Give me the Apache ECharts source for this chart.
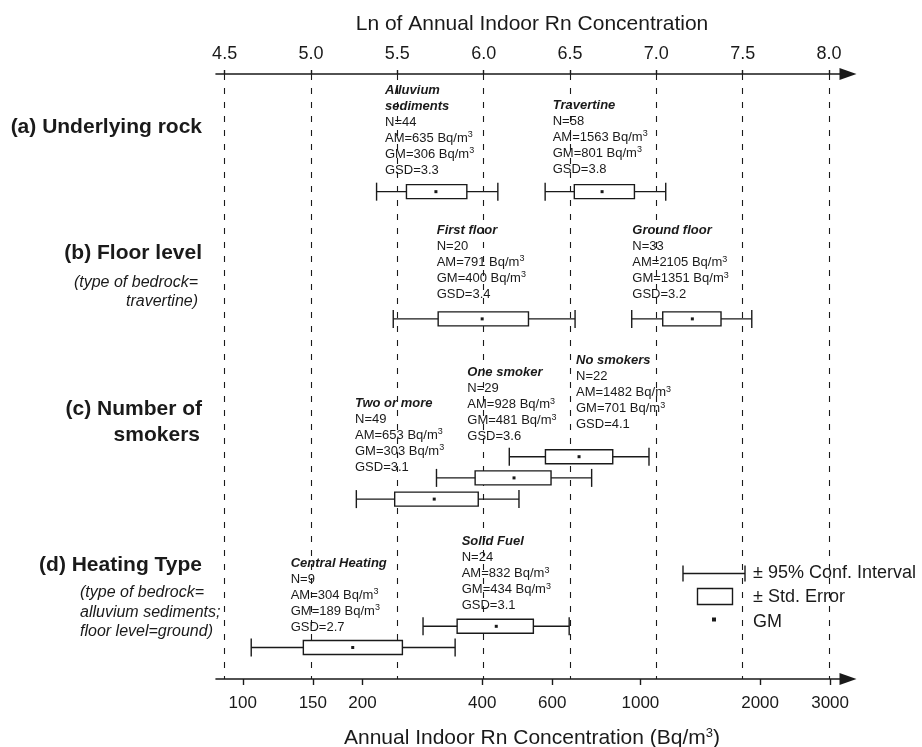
<!DOCTYPE html>
<html>
<head>
<meta charset="utf-8">
<script src="https://cdn.jsdelivr.net/npm/echarts@6/dist/echarts.min.js"></script>
<style>html,body{margin:0;padding:0;background:#fff}#main{width:922px;height:747px}</style>
</head>
<body>
<div id="main"></div>
<script>
// ---------------- DATA ----------------
const groups = ['Alluvium\nsediments', 'Travertine', 'First floor', 'Ground floor', 'No smokers', 'One smoker', 'Two or more', 'Solid Fuel', 'Central Heating'];
const rowNames = ['Underlying rock', 'Floor level', 'No smokers', 'One smoker', 'Two or more', 'Solid Fuel', 'Central Heating'];
const groupRow = [0, 0, 1, 1, 2, 3, 4, 5, 6];
const nValues = [44, 58, 20, 33, 22, 29, 49, 24, 9];
const amValues = [635, 1563, 791, 2105, 1482, 928, 653, 832, 304];
const gmValues = [306, 801, 400, 1351, 701, 481, 303, 434, 189];
const gsdValues = [3.3, 3.8, 3.4, 3.2, 4.1, 3.6, 3.1, 3.1, 2.7];
// 95% confidence interval and +/- std. error limits (Bq/m3)
const ciLow  = [217, 576, 239, 951, 468, 307, 193, 284, 105];
const seLow  = [258, 682, 310, 1138, 577, 384, 241, 346, 142];
const seHigh = [366, 966, 523, 1595, 852, 596, 391, 538, 252];
const ciHigh = [438, 1158, 685, 1906, 1051, 754, 495, 662, 342];
const topTicks = [4.5, 5.0, 5.5, 6.0, 6.5, 7.0, 7.5, 8.0];
const bottomTicks = [100, 150, 200, 400, 600, 1000, 2000, 3000];

// ---------------- LAYOUT ----------------
const FONT = '"Liberation Sans", Arial, Helvetica, sans-serif';
const INK = '#1a1a1a';
const rowSlot = [0, 12, 25, 27, 29, 41, 43];           // vertical slot of each row
const annotPos = [[385, 90], [552.7, 105], [436.7, 230], [632.3, 230.7], [576, 360.7], [467.3, 372.7], [355, 403.3], [461.7, 541.7], [290.7, 563.3]];
const X_MIN = 4.45, X_MAX = 8.11;

const chart = echarts.init(document.getElementById('main'), null, {renderer: 'canvas'});

function renderItem(params, api) {
  const yv = api.value(5);
  const pt = k => api.coord([api.value(k), yv]);
  const ciL = pt(0), seL = pt(1), gm = pt(2), seH = pt(3), ciH = pt(4);
  const cy = ciL[1];
  const bh = 14, cap = 18;
  const ls = {stroke: INK, lineWidth: 1.4, fill: null};
  return {
    type: 'group',
    children: [
      {type: 'line', shape: {x1: ciL[0], y1: cy, x2: ciH[0], y2: cy}, style: ls},
      {type: 'line', shape: {x1: ciL[0], y1: cy - cap / 2, x2: ciL[0], y2: cy + cap / 2}, style: ls},
      {type: 'line', shape: {x1: ciH[0], y1: cy - cap / 2, x2: ciH[0], y2: cy + cap / 2}, style: ls},
      {type: 'rect', shape: {x: seL[0], y: cy - bh / 2, width: seH[0] - seL[0], height: bh}, style: {fill: '#fff', stroke: INK, lineWidth: 1.4}},
      {type: 'rect', shape: {x: gm[0] - 1.5, y: cy - 1.5, width: 3, height: 3}, style: {fill: INK}}
    ]
  };
}

const seriesData = groups.map((g, i) => [
  Math.log(ciLow[i]), Math.log(seLow[i]), Math.log(gmValues[i]), Math.log(seHigh[i]), Math.log(ciHigh[i]),
  rowSlot[groupRow[i]]
]);

// annotation texts
const rich = {
  t: {fontFamily: FONT, fontSize: 13, fontWeight: 'bold', fontStyle: 'italic', lineHeight: 16, fill: INK, color: INK},
  n: {fontFamily: FONT, fontSize: 13, lineHeight: 16, fill: INK, color: INK},
  s: {fontFamily: FONT, fontSize: 9, lineHeight: 9, verticalAlign: 'top', fill: INK, color: INK}
};
const annotations = groups.map((g, i) => {
  const titleLines = g.split('\n').map(l => `{t|${l}}`).join('\n');
  const text = [
    titleLines,
    `{n|N=${nValues[i]}}`,
    `{n|AM=${amValues[i]} Bq/m}{s|3}`,
    `{n|GM=${gmValues[i]} Bq/m}{s|3}`,
    `{n|GSD=${gsdValues[i].toFixed(1)}}`
  ].join('\n');
  return {
    type: 'text', x: annotPos[i][0], y: annotPos[i][1] - 8, silent: true,
    style: {text: text, rich: rich, fill: INK, font: '13px ' + FONT, align: 'left', textAlign: 'left', verticalAlign: 'top', textVerticalAlign: 'top'}
  };
});

function leftText(txt, x, y, opt) {
  return {
    type: 'text', x: x, y: y, silent: true,
    style: Object.assign({text: txt, fill: INK, align: 'right', textAlign: 'right', verticalAlign: 'middle', textVerticalAlign: 'middle'}, opt)
  };
}
const boldF = 'bold 21px ' + FONT;
const italF = 'italic 16px ' + FONT;
const sideLabels = [
  leftText('(a) Underlying rock', 202, 127, {font: boldF}),
  leftText('(b) Floor level', 202, 253, {font: boldF}),
  leftText('(type of bedrock=', 198, 283, {font: italF}),
  leftText('travertine)', 198, 302, {font: italF}),
  leftText('(c) Number of', 202, 409, {font: boldF}),
  leftText('smokers', 200, 435, {font: boldF}),
  leftText('(d) Heating Type', 202, 565, {font: boldF}),
  leftText('(type of bedrock=', 80, 593, {font: italF, align: 'left', textAlign: 'left'}),
  leftText('alluvium sediments;', 80, 613, {font: italF, align: 'left', textAlign: 'left'}),
  leftText('floor level=ground)', 80, 632, {font: italF, align: 'left', textAlign: 'left'})
];

const lg = {stroke: INK, lineWidth: 1.4, fill: null};
const legendEls = [
  {type: 'line', shape: {x1: 683, y1: 573.5, x2: 745, y2: 573.5}, style: lg, silent: true},
  {type: 'line', shape: {x1: 683, y1: 565.5, x2: 683, y2: 581.5}, style: lg, silent: true},
  {type: 'line', shape: {x1: 745, y1: 565.5, x2: 745, y2: 581.5}, style: lg, silent: true},
  {type: 'rect', shape: {x: 697.5, y: 588.5, width: 35, height: 16}, style: {fill: '#fff', stroke: INK, lineWidth: 1.4}, silent: true},
  {type: 'rect', shape: {x: 712, y: 617.5, width: 4, height: 4}, style: {fill: INK}, silent: true},
  {type: 'text', x: 753, y: 573.5, silent: true, style: {text: '± 95% Conf. Interval', font: '18px ' + FONT, fill: INK, verticalAlign: 'middle', textVerticalAlign: 'middle'}},
  {type: 'text', x: 753, y: 597.5, silent: true, style: {text: '± Std. Error', font: '18px ' + FONT, fill: INK, verticalAlign: 'middle', textVerticalAlign: 'middle'}},
  {type: 'text', x: 753, y: 622, silent: true, style: {text: 'GM', font: '18px ' + FONT, fill: INK, verticalAlign: 'middle', textVerticalAlign: 'middle'}}
];

const axisLineCommon = {show: true, onZero: false, lineStyle: {color: INK, width: 1.6}, symbol: ['none', 'triangle'], symbolSize: [12, 17]};

const option = {
  animation: false,
  backgroundColor: '#fff',
  grid: {left: 216, right: 74, top: 74, bottom: 68, containLabel: false, outerBoundsMode: 'none'},
  xAxis: [
    {
      type: 'value', position: 'bottom', min: X_MIN, max: X_MAX,
      axisLine: axisLineCommon,
      axisTick: {show: true, inside: false, length: 6, customValues: bottomTicks.map(Math.log), lineStyle: {color: INK, width: 1.4}},
      axisLabel: {customValues: bottomTicks.map(Math.log), formatter: v => String(Math.round(Math.exp(v))), fontFamily: FONT, fontSize: 17, color: INK, margin: 16},
      splitLine: {show: false},
      name: '{m|Annual Indoor Rn Concentration (Bq/m}{s|3}{m|)}',
      nameLocation: 'middle', nameGap: 48,
      nameTextStyle: {rich: {
        m: {fontFamily: FONT, fontSize: 21, color: INK, lineHeight: 23},
        s: {fontFamily: FONT, fontSize: 13, color: INK, lineHeight: 13, verticalAlign: 'top'}
      }}
    },
    {
      type: 'value', position: 'top', min: X_MIN, max: X_MAX,
      axisLine: axisLineCommon,
      axisTick: {show: true, inside: false, length: 4, customValues: topTicks, lineStyle: {color: INK, width: 1.4}},
      axisLabel: {customValues: topTicks, formatter: v => v.toFixed(1), fontFamily: FONT, fontSize: 18, color: INK, margin: 11},
      splitLine: {show: false},
      name: 'Ln of Annual Indoor Rn Concentration',
      nameLocation: 'middle', nameGap: 39,
      nameTextStyle: {fontFamily: FONT, fontSize: 21, color: INK}
    }
  ],
  yAxis: {type: 'value', inverse: true, min: -11.1, max: 45.97, show: false},
  series: [
    {
      type: 'line', data: [], z: 1, xAxisIndex: 1, yAxisIndex: 0, silent: true,
      markLine: {
        silent: true, symbol: ['none', 'none'], label: {show: false},
        lineStyle: {type: [6, 8], color: INK, width: 1.1},
        emphasis: {disabled: true},
        data: topTicks.map(v => ({xAxis: v}))
      }
    },
    {
      type: 'custom', name: 'Rn', z: 5, xAxisIndex: 0, yAxisIndex: 0,
      encode: {x: [0, 1, 2, 3, 4], y: 5},
      data: seriesData,
      renderItem: renderItem
    }
  ],
  graphic: {elements: [].concat(annotations, sideLabels, legendEls)}
};
chart.setOption(option);
</script>
</body>
</html>
